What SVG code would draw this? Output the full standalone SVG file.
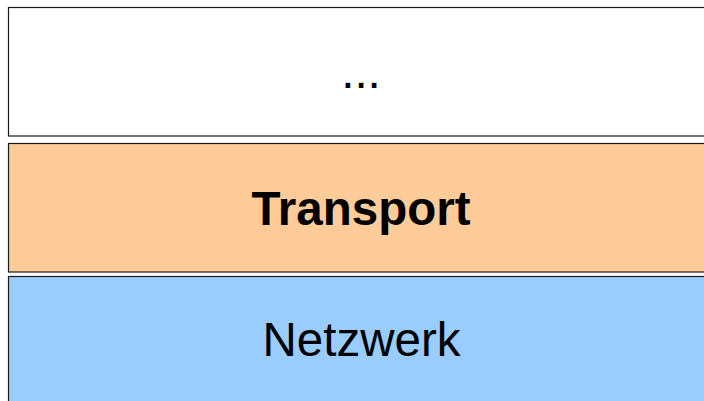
<svg xmlns="http://www.w3.org/2000/svg" width="704" height="401" viewBox="0 0 704 401">
<style>
.box{stroke:#1a1a1a;stroke-width:1.2}
.t{font-family:"Liberation Sans",Arial,sans-serif;font-size:47.5px;text-anchor:middle;fill:#000}
</style>
<rect width="704" height="401" fill="#fff"/>
<g id="top"><rect class="box" x="8.5" y="7.5" width="706" height="128.5" fill="#fff"/><text class="t" x="361" y="88">...</text></g>
<g id="transport"><rect class="box" x="8.5" y="143.5" width="706" height="128.5" fill="#ffcc99"/><text class="t" x="361" y="225" font-weight="bold" font-size="48.5">Transport</text></g>
<g id="netzwerk"><rect class="box" x="8.5" y="276.5" width="706" height="140" fill="#99ccff"/><text class="t" x="361.5" y="356">Netzwerk</text></g>
<g id="connectors"/>
</svg>
